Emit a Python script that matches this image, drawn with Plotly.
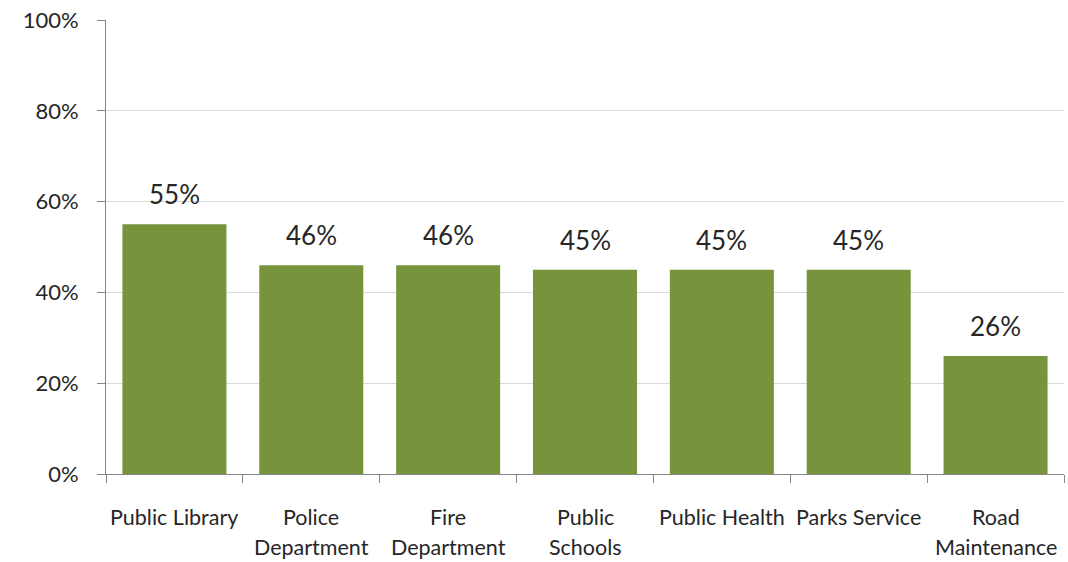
import plotly.graph_objects as go

# Share of respondents by public service
categories = ["Public Library", "Police Department", "Fire Department",
              "Public Schools", "Public Health", "Parks Service",
              "Road Maintenance"]
label_lines = [["Public Library"], ["Police", "Department"], ["Fire", "Department"],
               ["Public", "Schools"], ["Public Health"], ["Parks Service"],
               ["Road", "Maintenance"]]
values = [0.55, 0.46, 0.46, 0.45, 0.45, 0.45, 0.26]

FONT = "Lato, 'Open Sans', sans-serif"
BAR_COLOR = "#77933C"
AXIS_COLOR = "#868686"
GRID_COLOR = "#D9D9D9"
TEXT_COLOR = "#262626"

fig = go.Figure(
    go.Bar(
        x=categories,
        y=values,
        marker=dict(color=BAR_COLOR, line=dict(width=0)),
        hoverinfo="skip",
    )
)

annotations = []
# Value labels above each bar
for cat, v in zip(categories, values):
    annotations.append(dict(
        x=cat, y=v, xref="x", yref="y",
        text=f"{round(v * 100)}%", showarrow=False,
        yanchor="bottom", yshift=12,
        font=dict(family=FONT, size=26, color=TEXT_COLOR),
    ))
# Category labels under the axis, one annotation per line
for cat, lines in zip(categories, label_lines):
    for i, line in enumerate(lines):
        annotations.append(dict(
            x=cat, y=0, xref="x", yref="paper",
            text=line, showarrow=False,
            yanchor="middle", yshift=-43 - 30 * i,
            font=dict(family=FONT, size=21.5, color=TEXT_COLOR),
        ))

fig.update_layout(
    width=1068, height=562,
    margin=dict(l=106, r=4, t=20, b=88),
    paper_bgcolor="white", plot_bgcolor="white",
    bargap=0.24,
    showlegend=False,
    annotations=annotations,
    font=dict(family=FONT, color=TEXT_COLOR),
    xaxis=dict(
        type="category",
        showticklabels=False,
        ticks="outside", tickson="boundaries", ticklen=8,
        tickcolor=AXIS_COLOR, tickwidth=1,
        showline=True, linecolor=AXIS_COLOR, linewidth=1,
        showgrid=False, zeroline=False,
    ),
    yaxis=dict(
        range=[0, 1], dtick=0.2, tickformat=".0%",
        ticks="outside", ticklen=8, tickcolor=AXIS_COLOR,
        ticklabelstandoff=14,
        showline=True, linecolor=AXIS_COLOR, linewidth=1,
        showgrid=True, gridcolor=GRID_COLOR, gridwidth=1,
        zeroline=False,
        tickfont=dict(family=FONT, size=22, color=TEXT_COLOR),
    ),
)

fig.write_html("out.html")
